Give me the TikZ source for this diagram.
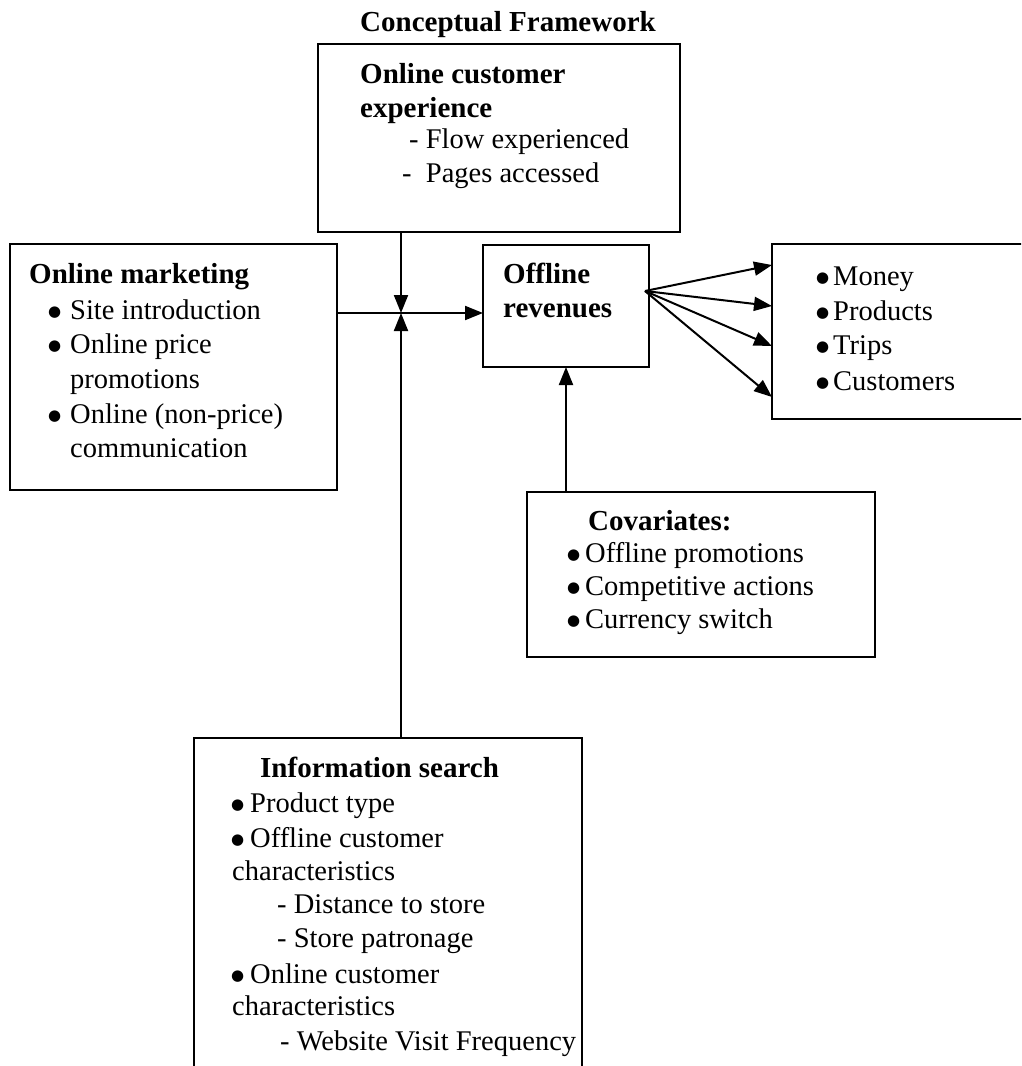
\documentclass[tikz,border=0pt]{standalone}
\usepackage{fontspec}
\setmainfont{Liberation Serif}
\newfontfamily\dejavu{DejaVu Sans}
\usetikzlibrary{arrows.meta,calc}
\newcommand\bitem[1]{\makebox[#1][l]{\raisebox{3pt}{\dejavu\fontsize{15}{18}\selectfont ●}}}
\begin{document}
\begin{tikzpicture}[x=1pt,y=-1pt,
  box/.style={draw,line width=2pt,inner sep=0pt,outer sep=0pt,anchor=north west},
  txt/.style={anchor=base west,inner sep=0pt,font=\fontsize{28.5}{34}\selectfont},
  hd/.style={anchor=base west,inner sep=0pt,font=\fontsize{29}{34}\selectfont\bfseries},
  arr/.style={line width=2pt,-{Triangle[length=18pt,width=14pt]}},
  ln/.style={line width=2pt}
]
\clip (0,0) rectangle (1021,1066);
\fill[white] (0,0) rectangle (1021,1066);

% boxes
\node[box,minimum width=362pt,minimum height=188pt] (exp) at (318,44) {};
\node[box,minimum width=327pt,minimum height=246pt] (mkt) at (10,244) {};
\node[box,minimum width=166pt,minimum height=122pt] (rev) at (483,245) {};
\node[box,minimum width=260pt,minimum height=175pt] (out) at (772,244) {};
\node[box,minimum width=348pt,minimum height=165pt] (cov) at (527,492) {};
\node[box,minimum width=388pt,minimum height=360pt] (inf) at (194,738) {};

% title
\node[hd,anchor=base] (title) at (508,31) {Conceptual Framework};

% experience box text
\node[hd] (e1) at (360,83) {Online customer};
\node[hd] (e2) at (360,117) {experience};
\node[txt] (e3) at (409,148) {- Flow experienced};
\node[txt] (e4) at (402,182) {-\ \ Pages accessed};

% online marketing text
\node[hd] (m0) at (29,283) {Online marketing};
\node[txt] (m1) at (48,319) {\bitem{22pt}Site introduction};
\node[txt] (m2) at (48,353) {\bitem{22pt}Online price};
\node[txt] (m3) at (70,388) {promotions};
\node[txt] (m4) at (48,423) {\bitem{22pt}Online (non-price)};
\node[txt] (m5) at (70,457) {communication};

% offline revenues text
\node[hd] (r1) at (503,283) {Offline};
\node[hd] (r2) at (503,317) {revenues};

% outcomes text
\node[txt] (o1) at (816,285) {\bitem{17pt}Money};
\node[txt] (o2) at (816,320) {\bitem{17pt}Products};
\node[txt] (o3) at (816,354) {\bitem{17pt}Trips};
\node[txt] (o4) at (816,390) {\bitem{17pt}Customers};

% covariates text
\node[hd] (c0) at (588,530) {Covariates:};
\node[txt] (c1) at (567,562) {\bitem{18pt}Offline promotions};
\node[txt] (c2) at (567,595) {\bitem{18pt}Competitive actions};
\node[txt] (c3) at (567,628) {\bitem{18pt}Currency switch};

% information search text
\node[hd] (i0) at (260,777) {Information search};
\node[txt] (i1) at (231,812) {\bitem{19pt}Product type};
\node[txt] (i2) at (231,847) {\bitem{19pt}Offline customer};
\node[txt] (i3) at (232,880) {characteristics};
\node[txt] (i4) at (277,913) {- Distance to store};
\node[txt] (i5) at (277,947) {- Store patronage};
\node[txt] (i6) at (231,983) {\bitem{19pt}Online customer};
\node[txt] (i7) at (232,1015) {characteristics};
\node[txt] (i8) at (280,1050) {- Website Visit Frequency};

% connectors
\coordinate (J) at (401,313);
\draw[arr] (mkt.east |- J) -- (rev.west |- J);
\draw[arr] (exp.south -| J) -- (J);
\draw[arr] (inf.north -| J) -- (J);
\draw[arr] (cov.north -| rev.south) -- (rev.south);

\coordinate (fan) at ($(rev.north east)+(-4,46)$);
\draw[arr] (fan) -- ($(out.north west)+(0,21)$);
\draw[arr] (fan) -- ($(out.north west)+(0,62)$);
\draw[arr] (fan) -- ($(out.north west)+(0,102)$);
\draw[arr] (fan) -- ($(out.north west)+(0,153)$);
\end{tikzpicture}
\end{document}
